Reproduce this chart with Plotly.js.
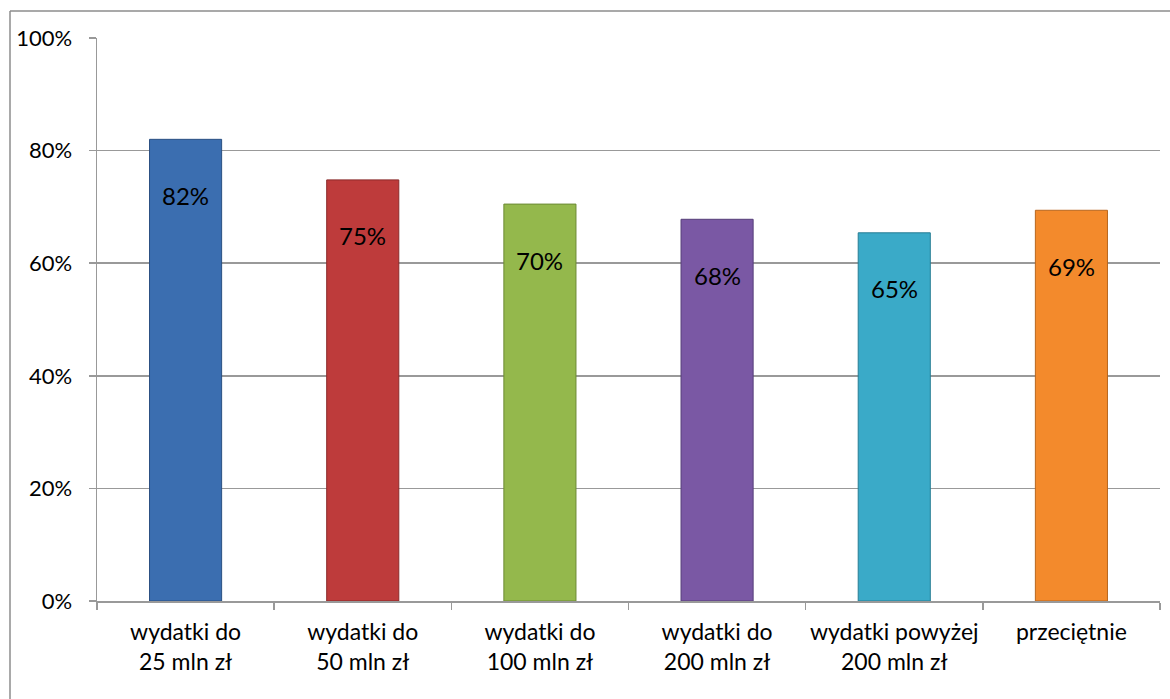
<!DOCTYPE html>
<html>
<head>
<meta charset="utf-8">
<script src="https://cdn.plot.ly/plotly-3.0.1.min.js"></script>
<style>
html,body{margin:0;padding:0;background:#fff;}
#chart{width:1170px;height:699px;}
</style>
</head>
<body>
<div id="chart"></div>
<script>
const categories = ["wydatki do<br>25 mln zł", "wydatki do<br>50 mln zł", "wydatki do<br>100 mln zł", "wydatki do<br>200 mln zł", "wydatki powyżej<br>200 mln zł", "przeciętnie"];
const values = [0.82, 0.748, 0.705, 0.678, 0.654, 0.694];
const valueLabels = ["82%", "75%", "70%", "68%", "65%", "69%"];
const colors = ["#3B6EB0", "#BE3B3B", "#94B84C", "#7A58A4", "#3AAAC8", "#F38A2C"];
const edgeColors = ["#2A4F82", "#8A2A2A", "#6C8A34", "#563E78", "#277D94", "#B8661F"];
const yTickVals = [0, 0.2, 0.4, 0.6, 0.8, 1.0];
const yTickText = ["0%", "20%", "40%", "60%", "80%", "100%"];

const FONT = "Lato, 'Open Sans', sans-serif";
const M = {l: 97, r: 10, t: 38, b: 98};
const W = 1170, H = 699;
const pw = W - M.l - M.r, ph = H - M.t - M.b;

const trace = {
  type: "bar",
  x: categories,
  y: values,
  marker: {color: colors, line: {color: edgeColors, width: 1}},
  hoverinfo: "skip"
};

const annotations = categories.map((c, i) => ({
  x: c, y: values[i], xref: "x", yref: "y",
  text: valueLabels[i], showarrow: false,
  yanchor: "middle", yshift: -56,
  font: {family: FONT, size: 24, color: "#000"}
}));

// outer chart border (left and top visible)
const bx = (10 - M.l) / pw;
const by = 1 + (M.t - 11) / ph;
const shapes = [
  {type: "line", xref: "paper", yref: "paper", x0: bx, x1: 1.2, y0: by, y1: by, line: {color: "#8C8C8C", width: 1.5}, layer: "below"},
  {type: "line", xref: "paper", yref: "paper", x0: bx, x1: bx, y0: by, y1: -0.3, line: {color: "#8C8C8C", width: 1.5}, layer: "below"}
];

const layout = {
  width: W, height: H,
  margin: M,
  paper_bgcolor: "#fff", plot_bgcolor: "#fff",
  showlegend: false,
  bargap: 0.593,
  font: {family: FONT, size: 22, color: "#000"},
  xaxis: {
    type: "category",
    tickson: "boundaries",
    tickangle: 0,
    ticks: "outside", ticklen: 7, tickcolor: "#999", tickwidth: 1.5,
    showline: true, linecolor: "#999", linewidth: 1.5,
    showgrid: false, zeroline: false,
    ticklabelstandoff: 10,
    tickfont: {family: FONT, size: 23, color: "#000"},
    automargin: false
  },
  yaxis: {
    range: [0, 1.0],
    tickvals: yTickVals, ticktext: yTickText,
    ticks: "outside", ticklen: 7, tickcolor: "#999", tickwidth: 1.5,
    showline: true, linecolor: "#999", linewidth: 1.5,
    showgrid: true, gridcolor: "#999", gridwidth: 1.5,
    zeroline: false,
    ticklabelstandoff: 12,
    tickfont: {family: FONT, size: 22, color: "#000"},
    automargin: false
  },
  annotations: annotations,
  shapes: shapes
};

Plotly.newPlot("chart", [trace], layout, {displayModeBar: false, staticPlot: true});
</script>
</body>
</html>
